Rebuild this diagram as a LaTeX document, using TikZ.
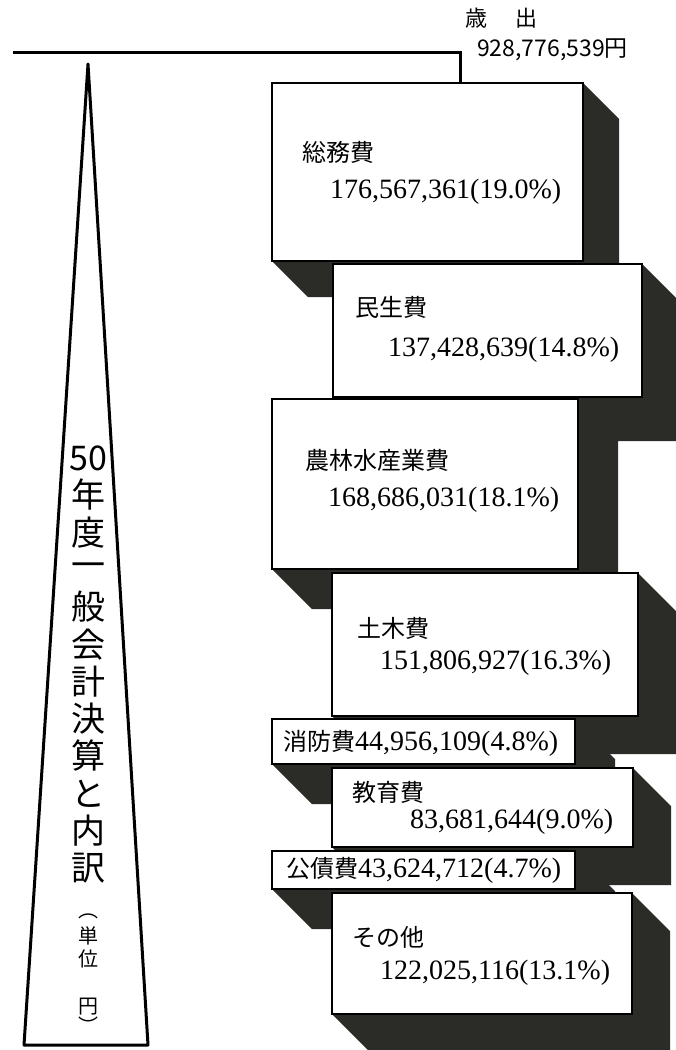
\documentclass[tikz,border=0pt]{standalone}
\usepackage{fontspec}
\setmainfont{Liberation Serif}
\newfontfamily\jp{Noto Sans CJK JP}
\usetikzlibrary{backgrounds}
\definecolor{blockdark}{HTML}{2B2B27}
\newcommand\jk{\jp\fontsize{24}{24}\selectfont}
\tikzset{
  face/.style={draw=black, fill=white, line width=2.6pt, anchor=north west, inner sep=0pt, outer sep=0pt},
  extrude/.style={fill=blockdark, draw=none},
  jlab/.style={anchor=west, inner sep=0pt, font=\jk},
  num/.style={anchor=west, inner sep=0pt, font=\fontsize{28}{28}\selectfont},
  ttl/.style={inner sep=0pt, font=\jp\fontsize{34}{34}\selectfont},
  subttl/.style={inner sep=0pt, font=\jp\fontsize{20}{20}\selectfont},
  ruleline/.style={line width=3pt, line join=miter},
  tri/.style={line width=3pt, line join=round},
}
\begin{document}
\begin{tikzpicture}[x=1pt,y=-1pt]
\useasboundingbox (0,0) rectangle (675,1050);
\begin{scope}[on background layer]
  \fill[white] (0,0) rectangle (675,1050);
\end{scope}

% boxes (faces)
\node[face, minimum width=311pt, minimum height=178pt] (b1) at (272,83) {};
\node[face, minimum width=309pt, minimum height=133pt] (b2) at (333,264) {};
\node[face, minimum width=306pt, minimum height=170pt] (b3) at (272,399) {};
\node[face, minimum width=306pt, minimum height=143pt] (b4) at (332,573) {};
\node[face, minimum width=303pt, minimum height=45pt] (b5) at (272,719) {};
\node[face, minimum width=301pt, minimum height=79pt] (b6) at (332,768) {};
\node[face, minimum width=303pt, minimum height=38pt] (b7) at (272,851) {};
\node[face, minimum width=300pt, minimum height=121pt] (b8) at (332,893) {};

% extrusions behind the faces
\begin{scope}[on background layer]
\foreach \b/\d in {b1/36, b2/44, b3/40, b4/38, b5/40, b6/38, b7/40, b8/38}{
  \path[extrude] (\b.north east) -- ++(\d,\d) -- ([shift={(\d,\d)}]\b.south east)
     -- ([shift={(\d,\d)}]\b.south west) -- (\b.south west) -- (\b.south east) -- cycle;
}
\end{scope}

% top rule
\coordinate (tl) at (13,52);
\coordinate (drop) at (460,83);
\draw[ruleline] (tl) -| (drop);

% total
\node[anchor=west, inner sep=0pt, font=\jp\fontsize{22}{22}\selectfont] (sai) at (465,18) {歳\hspace{28pt}出};
\node[anchor=west, inner sep=0pt, font=\jp\fontsize{23}{23}\selectfont] (total) at (477,50) {928,776,539円};

% triangle
\coordinate (apex) at (88,64);
\coordinate (bl) at (24,1045);
\coordinate (br) at (148,1045);
\draw[tri] (apex) -- (br) -- (bl) -- cycle;

% vertical title
\foreach \c/\yy [count=\i] in {50/458, 年/495, 度/533, 一/570, 般/607, 会/645, 計/682, 決/719, 算/756, と/794, 内/831, 訳/868}{
  \node[ttl] (t\i) at (88,\yy) {\c};
}
\foreach \c/\yy [count=\i] in {︵/916, 単/936, 位/959, 円/1007, ︶/1025}{
  \node[subttl] (u\i) at (88,\yy) {\c};
}

% labels
\node[jlab] (l1) at (302,152) {総務費};
\node[num] (n1) at (330,192) {176,567,361(19.0\%)};
\node[jlab] (l2) at (355,307) {民生費};
\node[num] (n2) at (388,350) {137,428,639(14.8\%)};
\node[jlab] (l3) at (305,460) {農林水産業費};
\node[num] (n3) at (328,500) {168,686,031(18.1\%)};
\node[jlab] (l4) at (357,628) {土木費};
\node[num] (n4) at (380,663) {151,806,927(16.3\%)};
\node[num] (n5) at (283,743) {{\jk 消防費}44,956,109(4.8\%)};
\node[jlab] (l6) at (352,792) {教育費};
\node[num] (n6) at (410,822) {83,681,644(9.0\%)};
\node[num] (n7) at (286,870) {{\jk 公債費}43,624,712(4.7\%)};
\node[jlab] (l8) at (352,937) {その他};
\node[num] (n8) at (380,973) {122,025,116(13.1\%)};
\end{tikzpicture}
\end{document}
